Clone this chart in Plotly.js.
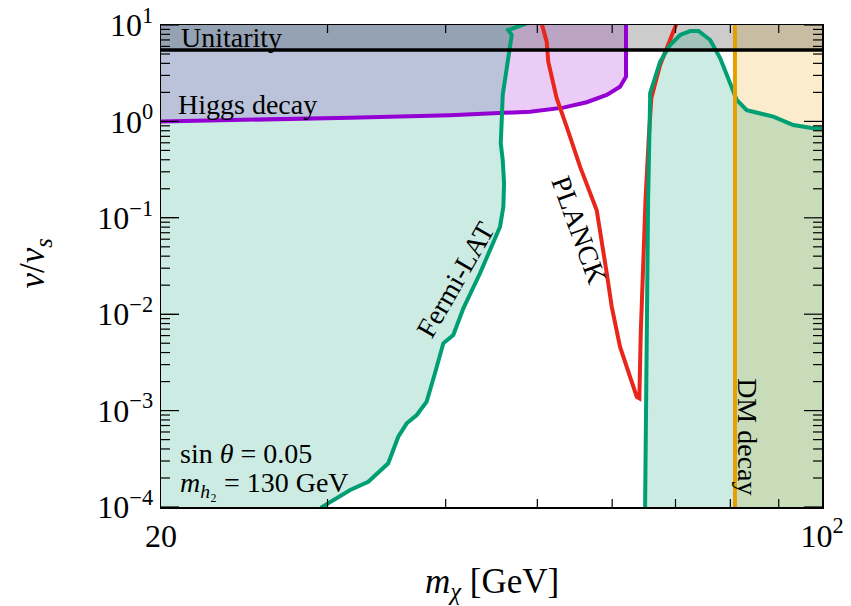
<!DOCTYPE html>
<html>
<head>
<meta charset="utf-8">
<script src="https://cdn.plot.ly/plotly-3.0.1.min.js"></script>
<style>body{margin:0;padding:0;background:#fff;} #chart{width:851px;height:606px;}</style>
</head>
<body>
<div id="chart"></div>
<script>
// ---- data ----
const fermiLeftX = [29.5, 30.06, 31.70, 33.13, 34.78, 35.64, 36.38, 37.28, 38.19, 38.97, 39.77, 40.75, 41.76, 43.49, 44.93, 45.66, 46.03, 46.11, 45.96, 45.74, 45.85, 45.96, 46.41, 46.98, 46.59, 48.73];
const fermiLeftY = [9.8e-5, 1.09e-4, 1.50e-4, 1.83e-4, 2.84e-4, 5.36e-4, 7.38e-4, 9.0e-4, 1.24e-3, 2.44e-3, 4.99e-3, 6.08e-3, 1.15e-2, 2.66e-2, 5.44e-2, 8.09e-2, 0.130, 0.228, 0.398, 0.593, 1.03, 1.88, 3.55, 7.88, 8.87, 10.4];

const fermiRightX = [65.0, 65.24, 65.48, 65.80, 65.80, 67.42, 69.08, 70.79, 72.54, 74.03, 76.17, 78.05, 79.62, 81.25, 83.26, 88.83, 93.26, 97.9, 100];
const fermiRightY = [9.5e-5, 4.25e-3, 0.153, 1.67, 1.96, 4.16, 6.2, 7.88, 8.66, 8.66, 6.99, 4.52, 2.80, 1.67, 1.31, 1.12, 0.918, 0.848, 0.848];

const planckX = [50.53, 51.15, 51.35, 52.41, 53.70, 55.48, 57.78, 58.49, 59.21, 59.93, 61.15, 63.70, 64.10, 64.32, 64.64, 65.07, 65.6, 66.0, 67.42, 68.80, 70.22];
const planckY = [10.4, 6.71, 4.16, 1.74, 0.881, 0.339, 0.120, 0.0589, 0.0266, 0.0120, 4.6e-3, 1.39e-3, 1.34e-3, 6.34e-3, 0.0311, 0.153, 0.70, 1.75, 3.85, 6.2, 10.5];

const higgsX = [20, 24.85, 31.70, 40.43, 45.3, 49.13, 53.27, 56.39, 59.21, 61.15, 62.05, 62.05];
const higgsY = [1.0, 1.03, 1.09, 1.16, 1.22, 1.26, 1.39, 1.58, 1.88, 2.29, 2.91, 10.5];

const unitarityY = 5.5;
const dmDecayX = 80.9;
const xMin = 20, xMax = 100, yMin = 1e-4, yMax = 10;

const yTickVals = [1e-4, 1e-3, 1e-2, 1e-1, 1, 10];
const yTickText = ["10<sup>−4</sup>", "10<sup>−3</sup>", "10<sup>−2</sup>", "10<sup>−1</sup>", "10<sup>0</sup>", "10<sup>1</sup>"];
const xTickVals = [20, 100];
const xTickText = ["20", "10<sup>2</sup>"];
const xMinorVals = [30, 40, 50, 60, 70, 80, 90];
const minorMult = [2, 3, 4, 5, 6, 7, 8, 9];

// ---- colours ----
const cGreen = "#009E73", cPurple = "#9400D3", cRed = "#e8261a", cOrange = "#E69F00";

const yMinorVals = [];
for (let e = -4; e < 1; e++) for (const m of minorMult) yMinorVals.push(m * Math.pow(10, e));

const below = yMin * 0.9, above = yMax * 1.05;

// inside tick marks on all four sides, built from the tick arrays (lengths in px converted via the log scales)
const plotW = 661, plotH = 482;
const pxPerDecX = plotW / (Math.log10(xMax) - Math.log10(xMin));
const pxPerDecY = plotH / (Math.log10(yMax) - Math.log10(yMin));
const tickX = [], tickY = [];
function addYTick(v, len) {
  const f = Math.pow(10, len / pxPerDecX);
  tickX.push(xMin, xMin * f, null, xMax, xMax / f, null);
  tickY.push(v, v, null, v, v, null);
}
function addXTick(v, len) {
  const f = Math.pow(10, len / pxPerDecY);
  tickX.push(v, v, null, v, v, null);
  tickY.push(yMin, yMin * f, null, yMax, yMax / f, null);
}
yTickVals.forEach(v => addYTick(v, 18));
yMinorVals.forEach(v => addYTick(v, 9));
xMinorVals.forEach(v => addXTick(v, 8));

const traces = [
  {x: higgsX.concat([xMin]), y: higgsY.concat([above]), fill: "toself", mode: "lines",
   line: {width: 0}, fillcolor: "rgba(148,0,211,0.2)", hoverinfo: "skip"},
  {x: [dmDecayX, xMax, xMax, dmDecayX], y: [below, below, above, above], fill: "toself", mode: "lines",
   line: {width: 0}, fillcolor: "rgba(230,159,0,0.2)", hoverinfo: "skip"},
  {x: [xMin, xMax, xMax, xMin], y: [unitarityY, unitarityY, above, above], fill: "toself", mode: "lines",
   line: {width: 0}, fillcolor: "rgba(0,0,0,0.2)", hoverinfo: "skip"},
  {x: [xMin].concat(fermiLeftX, [xMin]), y: [below].concat(fermiLeftY, [above]), fill: "toself", mode: "lines",
   line: {width: 0}, fillcolor: "rgba(0,158,115,0.2)", hoverinfo: "skip"},
  {x: fermiRightX.concat([xMax]), y: fermiRightY.concat([below]), fill: "toself", mode: "lines",
   line: {width: 0}, fillcolor: "rgba(0,158,115,0.2)", hoverinfo: "skip"},
  {x: higgsX, y: higgsY, mode: "lines", line: {color: cPurple, width: 4}},
  {x: planckX, y: planckY, mode: "lines", line: {color: cRed, width: 4}},
  {x: fermiLeftX, y: fermiLeftY, mode: "lines", line: {color: cGreen, width: 4}},
  {x: fermiRightX, y: fermiRightY, mode: "lines", line: {color: cGreen, width: 4}},
  {x: [dmDecayX, dmDecayX], y: [below, above], mode: "lines", line: {color: cOrange, width: 4}},
  {x: [xMin, xMax], y: [unitarityY, unitarityY], mode: "lines", line: {color: "#000", width: 3.5}},
  {x: tickX, y: tickY, mode: "lines", connectgaps: false, line: {color: "#000", width: 1.2}, hoverinfo: "skip"}
];

const serif = "Liberation Serif, Times New Roman, serif";
const annFont = {family: serif, size: 28, color: "#000"};
const titleFont = {family: serif, size: 35, color: "#000"};

function ann(text, x, y, opts) {
  return Object.assign({text: text, x: x, y: y, xref: "paper", yref: "paper", showarrow: false,
    font: annFont, xanchor: "center", yanchor: "middle"}, opts || {});
}

const layout = {
  width: 851, height: 606,
  margin: {l: 161, r: 29, t: 25, b: 99},
  paper_bgcolor: "#fff", plot_bgcolor: "#fff",
  showlegend: false,
  xaxis: {
    type: "log", range: [Math.log10(xMin), Math.log10(xMax)],
    tickmode: "array", tickvals: xTickVals, ticktext: xTickText,
    ticks: "inside", ticklen: 8, tickwidth: 1, tickcolor: "#000",
    showline: true, linecolor: "#000", linewidth: 1.5, mirror: true,
    showgrid: false, zeroline: false,
    tickfont: {family: serif, size: 32, color: "#000"}
  },
  yaxis: {
    type: "log", range: [Math.log10(yMin), Math.log10(yMax)],
    tickmode: "array", tickvals: yTickVals, ticktext: yTickText,
    ticks: "inside", ticklen: 18, tickwidth: 1, tickcolor: "#000",
    showline: true, linecolor: "#000", linewidth: 1.5, mirror: true,
    showgrid: false, zeroline: false,
    tickfont: {family: serif, size: 32, color: "#000"}
  },
  annotations: [
    ann("Unitarity", 0.027, 0.975, {xanchor: "left"}),
    ann("Higgs decay", 0.0227, 0.836, {xanchor: "left"}),
    ann("Fermi-LAT", 0.446, 0.471, {textangle: -60}),
    ann("PLANCK", 0.632, 0.575, {textangle: 70}),
    ann("DM decay", 0.888, 0.145, {textangle: 90}),
    ann("sin <i>θ</i> = 0.05", 0.0257, 0.112, {xanchor: "left"}),
    ann("<i>m</i><sub><i>h</i>₂</sub> = 130 GeV", 0.0257, 0.046, {xanchor: "left"}),
    ann("<i>m</i><sub><i>χ</i></sub> [GeV]", 0.5, -0.158, {font: titleFont}),
    ann("<i>v</i>/<i>v</i><sub><i>s</i></sub>", -0.1906, 0.505, {textangle: -90, font: titleFont})
  ]
};

Plotly.newPlot("chart", traces, layout, {displayModeBar: false, staticPlot: true});
</script>
</body>
</html>
